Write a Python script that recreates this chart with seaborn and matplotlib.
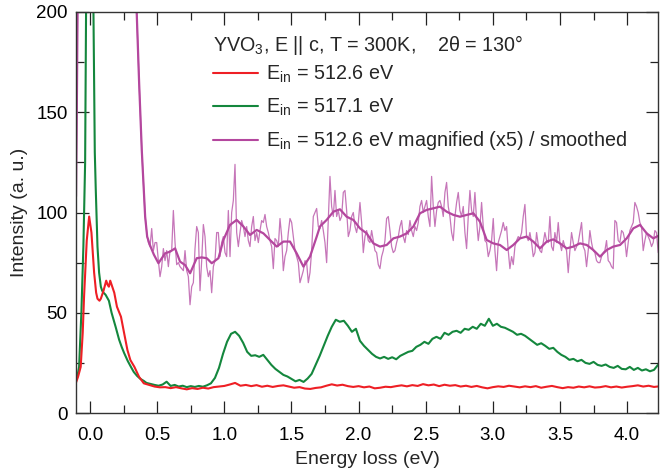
import numpy as np
import pandas as pd
import matplotlib
matplotlib.use("Agg")
import matplotlib.pyplot as plt
import seaborn as sns
from matplotlib.lines import Line2D
from matplotlib.ticker import MultipleLocator

# ---------------- data ----------------
# E_in = 512.6 eV, low-energy part (irregular energies)
red_low_E = [-0.107, -0.09, -0.07, -0.055, -0.045, -0.025, -0.007, 0.01, 0.03, 0.045,
             0.055, 0.07, 0.08, 0.10, 0.12, 0.13, 0.14, 0.15, 0.16, 0.18, 0.20, 0.23,
             0.253, 0.278, 0.30, 0.33, 0.365, 0.40]
red_low_I = [14.8, 18, 23, 40, 58, 86, 98, 90, 70, 60,
             57, 56, 57, 61, 66, 64, 63, 66, 64, 60, 53, 48,
             40, 31.4, 26.4, 23, 18, 14.8]
# E_in = 512.6 eV, from 0.44 eV in steps of 0.04 eV
red_hi_start, red_hi_step = 0.44, 0.04
red_hi_I = [14.0, 13.2, 12.8, 12.9, 12.4, 12.9, 12.3, 11.8, 12.4, 12.0, 12.6, 12.2, 12.9, 13.2,
            13.5, 14.2, 15.0, 13.6, 14.0, 13.4, 13.9, 13.1, 13.6, 13.0, 13.5, 13.8, 13.2, 12.6,
            12.9, 12.2, 12.0, 12.5, 12.8, 13.6, 14.3, 13.7, 14.1, 13.4, 13.0, 13.4, 12.8, 13.2,
            12.3, 12.6, 13.1, 12.9, 13.4, 13.8, 13.3, 13.9, 13.5, 14.4, 13.8, 14.2, 13.4, 14.1,
            13.6, 13.9, 13.2, 13.6, 13.0, 13.5, 12.8, 12.3, 12.9, 13.3, 13.0, 13.6, 13.2, 12.8,
            13.3, 12.9, 13.4, 12.6, 13.1, 13.5, 12.9, 12.4, 12.9, 12.6, 13.2, 12.8, 13.3, 12.7,
            12.9, 13.4, 12.8, 13.2, 12.7, 13.1, 13.4, 13.8, 13.2, 13.6, 13.0, 13.3]

# E_in = 517.1 eV, low-energy part
green_low_E = [-0.107, -0.09, -0.082, -0.065, -0.05, -0.037, -0.03, -0.015, 0.0, 0.012,
               0.025, 0.035, 0.042, 0.055, 0.067, 0.08, 0.09, 0.10, 0.115, 0.14, 0.16,
               0.19, 0.216, 0.235, 0.253, 0.28, 0.30, 0.325, 0.35, 0.375, 0.40]
green_low_I = [16.5, 20, 23, 50, 83, 125, 200, 380, 470, 350,
               200, 130, 112, 83, 70, 63, 61, 60, 59, 56, 50,
               43, 36.6, 33, 30, 26, 23.5, 20.5, 18.5, 17, 16]
# E_in = 517.1 eV, from 0.42 eV in steps of 0.03 eV
green_hi_start, green_hi_step = 0.42, 0.03
green_hi_I = [15.0, 14.5, 14.0, 13.6, 14.2, 15.6, 13.5, 14.0, 13.2, 13.6, 12.9, 13.4, 13.0,
              13.5, 13.1, 13.8, 14.8, 17.5, 22.5, 29.5, 35.5, 39.5, 40.5, 38.5, 35.0, 30.5,
              28.5, 28.8, 28.0, 29.0, 26.5, 24.0, 22.0, 20.5, 19.0, 18.2, 17.0, 15.8, 16.5,
              15.5, 17.2, 19.5, 24.0, 28.5, 33.5, 38.5, 43.0, 46.5, 45.5, 46.0, 43.5, 40.5,
              42.0, 36.0, 33.5, 31.5, 29.5, 28.0, 27.2, 28.0, 27.0, 27.8, 26.8, 28.5, 29.5,
              30.5, 31.0, 33.0, 34.0, 35.5, 34.5, 37.0, 38.0, 37.0, 40.0, 39.0, 40.5, 41.0,
              40.0, 42.0, 41.5, 43.0, 42.0, 44.5, 43.5, 47.0, 43.5, 44.5, 43.0, 42.5, 41.5,
              40.5, 39.0, 39.5, 38.5, 37.0, 35.5, 34.0, 34.8, 33.5, 32.0, 32.5, 30.5, 29.0,
              28.0, 26.5, 27.0, 25.8, 26.5, 25.0, 24.5, 25.5, 24.0, 23.5, 24.2, 23.0, 22.5,
              23.5, 22.0, 21.8, 23.0, 21.5, 22.5, 21.2, 21.8, 20.8, 21.5, 24.0]

# E_in = 512.6 eV magnified (x5): low-energy part
mag_low_E = [-0.105, -0.098, -0.09, -0.075, 0.0, 0.1, 0.2, 0.3, 0.33, 0.347, 0.365,
             0.385, 0.41, 0.425]
mag_low_I = [108, 160, 230, 300, 480, 420, 340, 260, 228, 200, 165, 131, 98, 88]
# raw magnified data from 0.434 eV in steps of 0.01241 eV
mag_raw_start, mag_raw_step = 0.434, 0.01241
mag_raw_I = [85, 83, 92, 81, 85, 85, 76, 68, 73, 82, 76, 81, 73, 81, 81, 101, 85, 74, 75, 73,
             72, 71, 81, 71, 68, 54, 63, 65, 82, 93, 90, 61, 76, 94, 88, 73, 68, 71, 60, 73,
             76, 90, 90, 78, 85, 88, 80, 78, 101, 78, 100, 106, 124, 90, 83, 90, 96, 93, 88, 93,
             86, 83, 93, 98, 86, 90, 85, 91, 96, 95, 99, 93, 90, 86, 83, 72, 87, 86, 83, 97,
             88, 71, 78, 81, 90, 97, 95, 88, 81, 78, 75, 65, 68, 71, 76, 75, 65, 70, 81, 98,
             100, 102, 93, 92,
             96, 91, 85, 75, 96, 118, 103, 98, 111, 98, 101, 96, 98, 110, 111, 101, 88, 91, 98, 100,
             93, 90, 95, 105, 95, 80, 88, 91, 86, 85, 91, 86, 81, 80, 74, 72, 78, 81, 86, 97,
             98, 91, 83, 80, 81, 85, 88, 93, 96, 88, 85, 91, 89, 96, 91, 88, 93, 91, 95, 103,
             106, 100, 103, 106, 98, 93, 118, 103, 93, 101, 105, 106, 103, 98, 110, 115, 103, 98, 90, 86,
             98, 105, 110, 101, 98, 103, 90, 82, 98, 111, 101, 98, 110, 96, 86, 93, 105, 93, 86, 85,
             78, 81, 86,
             97, 81, 71, 85, 88, 91, 95, 91, 93, 81, 72, 78, 74, 83, 86, 88, 87, 90, 98, 104,
             88, 86, 90, 85, 78, 80, 90, 84, 81, 80, 85, 90, 86, 85, 98, 83, 81, 90, 85, 95,
             85, 81, 86, 83, 81, 70, 81, 90, 85, 81, 83, 85, 90, 95, 83, 81, 73, 81, 91, 85,
             81, 80, 76, 75, 75, 78, 80, 81, 86, 76, 75, 73, 72, 96, 95, 86, 85, 91, 90, 86,
             78, 85, 91, 93, 95, 105, 103, 100, 95, 93, 81, 86, 90, 88, 86, 83, 85, 91, 90, 80,
             85, 86]
# smoothed magnified data
mag_s_E = [0.444, 0.475, 0.509, 0.558, 0.596, 0.633, 0.670, 0.707, 0.745, 0.794, 0.831, 0.869,
           0.906, 0.956, 0.993, 1.042, 1.092, 1.142, 1.191, 1.241, 1.291, 1.340, 1.390,
           1.440, 1.489, 1.539, 1.589, 1.638, 1.688, 1.712, 1.762, 1.812, 1.861, 1.911,
           1.961, 2.010, 2.060, 2.110, 2.159, 2.209, 2.259, 2.308, 2.358, 2.408, 2.457,
           2.507, 2.557, 2.606, 2.656, 2.706, 2.755, 2.805, 2.855, 2.904, 2.954, 3.003,
           3.053, 3.103, 3.152, 3.202, 3.252, 3.301, 3.351, 3.401, 3.450, 3.500, 3.550,
           3.599, 3.649, 3.699, 3.748, 3.798, 3.848, 3.897, 3.947, 3.997, 4.046, 4.096,
           4.146, 4.195, 4.245]
mag_s_I = [84, 79, 74.7, 79.6, 80.5, 82.1, 75.5, 73.8, 69.7, 77.2, 77.6, 77.2,
           74.7, 77.2, 86.3, 93.8, 96.3, 93.0, 88.8, 91.3, 89.6, 86.3, 83.0,
           85.5, 85.5, 79.6, 73.0, 78.0, 88.0, 93.0, 96.3, 100.4, 101.6, 97.9,
           96.3, 92.1, 89.6, 84.6, 83.0, 83.8, 87.1, 88.0, 89.6, 93.0, 99.6,
           101.3, 102.1, 102.9, 100.4, 98.8, 97.9, 98.8, 99.6, 95.4, 86.3, 84.6,
           83.8, 81.3, 83.8, 87.1, 88.0, 85.5, 82.1, 85.5, 86.6, 84.6, 82.1,
           83.0, 84.6, 83.8, 81.3, 78.0, 81.3, 83.0, 83.8, 87.1, 92.1, 93.8,
           89.6, 87.1, 88.8]

legend_title = "YVO$_3$, E || c, T = 300K,    2\u03b8 = 130\u00b0"
series_labels = [r"E$_{\mathrm{in}}$ = 512.6 eV",
                 r"E$_{\mathrm{in}}$ = 517.1 eV",
                 r"E$_{\mathrm{in}}$ = 512.6 eV magnified (x5) / smoothed"]
x_label = "Energy loss (eV)"
y_label = "Intensity (a. u.)"

# ---------------- build tables ----------------
def hi_energies(start, step, n):
    return [start + step * i for i in range(n)]

red_df = pd.DataFrame({"E": red_low_E + hi_energies(red_hi_start, red_hi_step, len(red_hi_I)),
                       "I": red_low_I + red_hi_I})
green_df = pd.DataFrame({"E": green_low_E + hi_energies(green_hi_start, green_hi_step, len(green_hi_I)),
                         "I": green_low_I + green_hi_I})
raw_df = pd.DataFrame({"E": mag_low_E + hi_energies(mag_raw_start, mag_raw_step, len(mag_raw_I)),
                       "I": mag_low_I + mag_raw_I})
smooth_df = pd.DataFrame({"E": mag_low_E + mag_s_E, "I": mag_low_I + mag_s_I})

# ---------------- style ----------------
sns.set_theme(style="ticks")
plt.rcParams["font.family"] = ["Liberation Sans", "DejaVu Sans"]
plt.rcParams["mathtext.fontset"] = "custom"
plt.rcParams["mathtext.rm"] = "Liberation Sans"
plt.rcParams["mathtext.it"] = "Liberation Sans:italic"
plt.rcParams["mathtext.bf"] = "Liberation Sans:bold"

RED = "#EE1F25"
GREEN = "#14873D"
MAG = "#B4479E"
MAG_RAW = "#C676B9"

fig = plt.figure(figsize=(6.6, 4.72), dpi=100)
ax = fig.add_axes([76 / 660, 1 - 413 / 472, (658 - 76) / 660, (413 - 12) / 472])

sns.lineplot(data=green_df, x="E", y="I", sort=False, estimator=None, color=GREEN,
             linewidth=1.5, ax=ax, legend=False)
sns.lineplot(data=red_df, x="E", y="I", sort=False, estimator=None, color=RED,
             linewidth=1.5, ax=ax, legend=False)
sns.lineplot(data=raw_df, x="E", y="I", sort=False, estimator=None, color=MAG_RAW,
             linewidth=0.9, ax=ax, legend=False)
sns.lineplot(data=smooth_df, x="E", y="I", sort=False, estimator=None, color=MAG,
             linewidth=1.6, ax=ax, legend=False)

ax.set_xlim(-0.105, 4.23)
ax.set_ylim(0, 200)
ax.xaxis.set_major_locator(MultipleLocator(0.5))
ax.xaxis.set_minor_locator(MultipleLocator(0.25))
ax.yaxis.set_major_locator(MultipleLocator(50))
ax.yaxis.set_minor_locator(MultipleLocator(25))
ax.xaxis.set_major_formatter(matplotlib.ticker.FormatStrFormatter("%.1f"))
ax.tick_params(which="both", direction="in", top=True, right=True, colors="#222222",
               labelcolor="black", width=0.9, labelsize=13.5)
ax.tick_params(which="major", length=9, pad=6)
ax.tick_params(axis="x", which="major", pad=10)
ax.tick_params(which="minor", length=5.5)
for s in ax.spines.values():
    s.set_color("#333333")
    s.set_linewidth(1.0)

ax.set_xlabel(x_label, fontsize=14, labelpad=5)
ax.set_ylabel(y_label, fontsize=14, labelpad=6)

ax.text((213 - 76) / 582, 1 - (45 - 12) / 401, legend_title, transform=ax.transAxes,
        fontsize=14.2, va="center", ha="left")
handles = [Line2D([], [], color=RED, lw=1.5),
           Line2D([], [], color=GREEN, lw=1.5),
           Line2D([], [], color=MAG, lw=1.5)]
ax.legend(handles, series_labels, loc="upper left",
          bbox_to_anchor=((213 - 76) / 582, 1 - (64 - 12) / 401),
          frameon=False, fontsize=14.2, handlelength=2.3, handletextpad=0.4,
          labelspacing=0.58, borderpad=0, borderaxespad=0)

fig.savefig("out.png", dpi=100)
